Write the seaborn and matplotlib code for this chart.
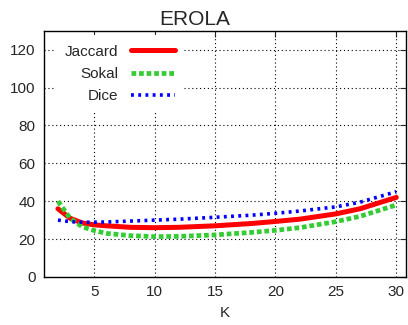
import matplotlib
matplotlib.use("Agg")
import matplotlib.pyplot as plt
import pandas as pd
import seaborn as sns

# values
k_values = [2, 3, 4, 5, 6, 8, 10, 12, 15, 18, 20, 22, 25, 27, 30]
jaccard = [36, 31, 28.5, 27.5, 27, 26.2, 26, 26.2, 27, 28.2, 29.3, 30.5, 33.3, 36, 42]
sokal = [40, 31, 26.5, 24.5, 23, 21.8, 21.3, 21.4, 22.2, 23.5, 24.6, 26, 29.2, 32, 38]
dice = [30, 29.2, 28.9, 28.9, 29, 29.5, 30, 30.5, 31.5, 32.6, 33.6, 34.8, 37, 39.5, 45]

df = pd.DataFrame({"K": k_values, "Jaccard": jaccard, "Sokal": sokal, "Dice": dice})

sns.set_style("white")
plt.rcParams['font.family'] = ['Liberation Sans', 'DejaVu Sans']

fig = plt.figure(figsize=(4.08, 3.25), dpi=100)
ax = fig.add_axes([0.108, 0.148, 0.887, 0.757])

sns.lineplot(data=df, x="K", y="Jaccard", ax=ax, color="#ff0000", linewidth=3.6,
             linestyle="-", label="Jaccard")
sns.lineplot(data=df, x="K", y="Sokal", ax=ax, color="#33cc33", linewidth=3.4,
             linestyle=(0, (1, 0.6)), label="Sokal")
sns.lineplot(data=df, x="K", y="Dice", ax=ax, color="#0000ff", linewidth=2.6,
             linestyle=(0, (0.8, 1.2)), label="Dice")

ax.set_xlim(0.85, 30.8)
ax.set_ylim(0, 130)
ax.set_xticks([5, 10, 15, 20, 25, 30])
ax.set_yticks([0, 20, 40, 60, 80, 100, 120])
ax.grid(True, color="black", linestyle=(0, (1, 2.5)), linewidth=0.8)
ax.tick_params(direction="in", top=True, right=True, length=4, labelsize=11, pad=6)
for s in ax.spines.values():
    s.set_visible(True)
    s.set_color("black")
    s.set_linewidth(1.0)

ax.set_title("EROLA", fontsize=15, pad=4, x=0.417)
ax.set_xlabel("K", fontsize=11, labelpad=5)
ax.set_ylabel("")

leg = ax.legend(loc="upper left", frameon=True, markerfirst=False, fontsize=11,
                handlelength=2.9, labelspacing=0.55, bbox_to_anchor=(0.02, 1.0),
                borderpad=0.6, borderaxespad=0.3)
leg.get_frame().set_facecolor("white")
leg.get_frame().set_edgecolor("none")
leg.get_frame().set_alpha(1.0)
leg.get_frame().set_boxstyle("square", pad=0)

fig.savefig("out.png", dpi=100)
